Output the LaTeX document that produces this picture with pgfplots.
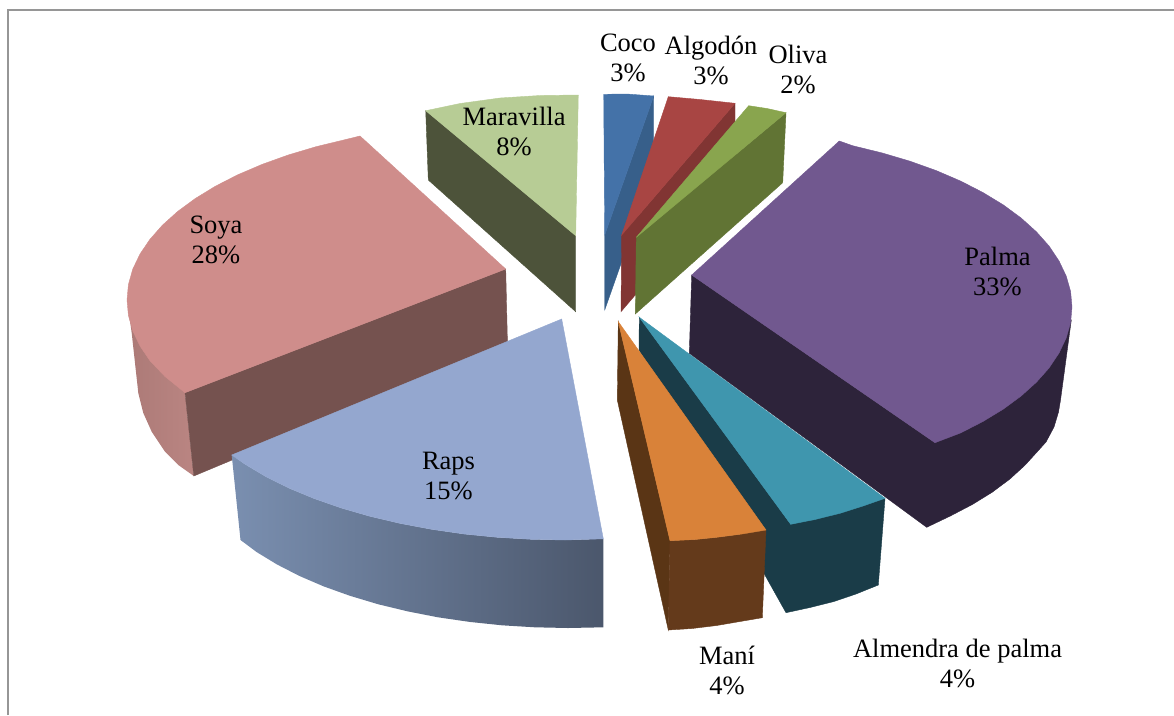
\documentclass[border=0pt]{standalone}
\usepackage{pgfplots}
\pgfplotsset{compat=1.18}
\usepackage{fontspec}
\setmainfont{Liberation Serif}

\definecolor{cocoTop}{RGB}{68,114,168}
\definecolor{cocoSide}{RGB}{55,95,138}
\definecolor{algoTop}{RGB}{168,69,67}
\definecolor{algoSide}{RGB}{129,53,51}
\definecolor{oliTop}{RGB}{137,165,78}
\definecolor{oliSide}{RGB}{97,116,52}
\definecolor{palTop}{RGB}{113,88,143}
\definecolor{palSide}{RGB}{45,35,58}
\definecolor{almTop}{RGB}{63,150,174}
\definecolor{almSide}{RGB}{26,60,72}
\definecolor{manTop}{RGB}{217,130,57}
\definecolor{manFront}{RGB}{100,58,27}
\definecolor{manSide}{RGB}{90,53,21}
\definecolor{rapTop}{RGB}{148,167,207}
\definecolor{rapLeft}{RGB}{122,143,176}
\definecolor{rapRight}{RGB}{75,87,108}
\definecolor{soyTop}{RGB}{207,141,139}
\definecolor{soyFront}{RGB}{117,82,79}
\definecolor{soyLeft}{RGB}{172,122,119}
\definecolor{soyRight}{RGB}{186,133,130}
\definecolor{marTop}{RGB}{183,204,149}
\definecolor{marSide}{RGB}{77,83,58}
\definecolor{frameGray}{RGB}{150,150,150}

\tikzset{lab/.style={font=\fontsize{26.5}{30}\selectfont, align=center, text=black, inner sep=0pt}}

% filled face of a slice: colour, then closed outline
\newcommand{\face}[2]{\addplot[fill=#1,draw=#1,line width=0.4pt,forget plot] coordinates {#2} -- cycle;}
% curved rim shaded from left to right: two colours, then closed outline
\newcommand{\rim}[3]{\addplot[draw=none,left color=#1,right color=#2,forget plot] coordinates {#3} -- cycle;}

\begin{document}
\begin{tikzpicture}
\useasboundingbox (0,0) rectangle (1174pt,715pt);
\begin{axis}[
  anchor=south west, at={(0,0)},
  scale only axis, width=1174pt, height=715pt,
  xmin=0, xmax=1174, ymin=0, ymax=715, y dir=reverse,
  hide axis, clip=true,
]
% chart frame
\addplot[frameGray,line width=2pt,forget plot] coordinates {(8,715) (8,9.5) (1174,9.5)};

% Maravilla
\face{marSide}{(425.7,110.7)(428.3,180)(575.7,311.7)(575.7,235.7)}
\face{marTop}{(425.7,110.7)(460,103.5)(500,98)(540,95.5)(578.3,95)(575.7,235.7)}

% Coco
\face{cocoSide}{(653.7,96)(653.7,171)(604.7,310)(604.7,235)}
\face{cocoTop}{(603.7,94.3)(626.7,94)(653.7,96)(604.7,235)}

% Algodon
\face{algoSide}{(735,103.3)(735,178)(621,311.7)(621.7,235)}
\face{algoTop}{(668.3,96.7)(700,99.5)(735,103.3)(621.7,235)}

% Oliva
\face{oliSide}{(786,112.7)(782.7,182.7)(635.3,314)(636.3,237.3)}
\face{oliTop}{(748.7,105.7)(767,108.5)(786,112.7)(636.3,237.3)}

% Palma
\face{palSide}{(691.7,275)(689.3,353.3)(926.7,527.3)(950.5,515.9)(972.5,504.4)(992.4,492.1)(1009.9,479)(1025,465.2)(1037,452)(1046,442)(1054,427)(1058.5,412)(1060.5,400)(1071.3,320)(935,442.7)}
\face{palTop}{(691.7,275)(839.3,141)(852.6,145.7)(882,152.9)(910,161.2)(936.3,170.6)(960.7,181.1)(983.1,192.6)(1003.3,204.9)(1021.1,218)(1036.4,231.8)(1049.1,246.1)(1059,260.9)(1066.2,276.1)(1070.6,291.5)(1072,307)(1070.6,322.5)(1066.2,337.9)(1059,353.1)(1049.1,367.9)(1036.4,382.2)(1021.1,396)(1003.3,409.1)(983.1,421.4)(960.7,432.9)(935,442.7)}

% Soya
\rim{soyLeft}{soyRight}{(128,306)(131.7,333)(135,363)(138.3,393)(143.3,413)(151.7,431.7)(165,451.7)(178.3,465)(193.8,476)(185,392.7)}
\face{soyFront}{(185,392.7)(505.7,269)(507.5,345)(193.8,476)}
\face{soyTop}{(505.7,269)(360,136)(345.3,139.6)(316,146.7)(288.2,155)(262,164.4)(237.7,174.8)(215.4,186.2)(195.3,198.5)(177.6,211.5)(162.4,225.2)(149.8,239.5)(139.9,254.2)(132.7,269.3)(128.4,284.6)(127,300)(128.4,315.4)(132.7,330.7)(139.9,345.8)(149.8,360.5)(165,376.5)(185,392.7)}

% Almendra de palma
\face{almSide}{(639.3,317.3)(639,350)(786,612.7)(810,607.5)(833.3,601.7)(856,594)(878.3,585)(885,498.3)(790.7,524.3)}
\face{almTop}{(639.3,317.3)(885,498.3)(863,506)(840,513.3)(815,519.5)(790.7,524.3)}

% Mani
\face{manSide}{(618.3,321.7)(617.3,400)(668.3,630)(670,540.7)}
\face{manFront}{(670,540.7)(695,539.5)(716.7,537.3)(742,534)(766,530)(762.3,617.7)(740,621.5)(716.7,625.5)(692,628.5)(668.3,630)}
\face{manTop}{(618.3,321.7)(766,530)(742,534)(716.7,537.3)(695,539.5)(670,540.7)}

% Raps
\rim{rapLeft}{rapRight}{(231.7,455)(245.5,464.5)(266.2,476.8)(289.2,488.2)(314.3,498.6)(341.3,508)(370,516.3)(400.2,523.4)(431.6,529.3)(464,534)(497.3,537.3)(531,539.3)(565,540)(603.3,538.8)(603.3,627.3)(568,628)(534.9,627.3)(502,625.3)(469.6,621.9)(438,617.3)(407.4,611.3)(378,604.2)(350,595.8)(323.7,586.4)(299.3,575.9)(276.9,564.4)(256.7,552.1)(240.5,540)}
\face{rapTop}{(561.7,319)(231.7,455)(245.5,464.5)(266.2,476.8)(289.2,488.2)(314.3,498.6)(341.3,508)(370,516.3)(400.2,523.4)(431.6,529.3)(464,534)(497.3,537.3)(531,539.3)(565,540)(603.3,538.8)}

% data labels
\node[lab] at (axis cs:628,58) {Coco\\3\%};
\node[lab] at (axis cs:711,60.5) {Algodón\\3\%};
\node[lab] at (axis cs:798,69) {Oliva\\2\%};
\node[lab] at (axis cs:514,131) {Maravilla\\8\%};
\node[lab] at (axis cs:216,239.5) {Soya\\28\%};
\node[lab] at (axis cs:448.5,476) {Raps\\15\%};
\node[lab] at (axis cs:997.5,271.5) {Palma\\33\%};
\node[lab] at (axis cs:727,670) {Maní\\4\%};
\node[lab] at (axis cs:957.5,663) {Almendra de palma\\4\%};
\end{axis}
\end{tikzpicture}
\end{document}
